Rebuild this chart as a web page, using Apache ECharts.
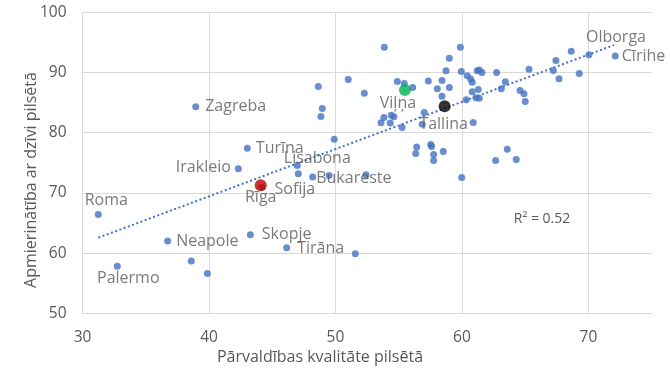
<!DOCTYPE html>
<html>
<head>
<meta charset="utf-8">
<script src="https://cdn.jsdelivr.net/npm/echarts@6/dist/echarts.min.js"></script>
<style>
html,body{margin:0;padding:0;background:#fff;}
#chart{width:670px;height:379px;}
</style>
</head>
<body>
<div id="chart"></div>
<script>
// Labeled cities
const cityNames = ['Roma','Palermo','Neapole','Zagreba','Irakleio','Turīna','Sofija','Skopje','Tirāna','Lisabona','Bukareste','Olborga','Cīrihe'];
const cityGov   = [31.25, 32.75, 36.73, 38.95, 42.32, 43.03, 44.19, 43.27, 46.14, 46.98, 48.2, 70.04, 72.12];
const citySat   = [66.4, 57.8, 62.0, 84.3, 74.0, 77.4, 70.93, 63.06, 60.9, 74.54, 72.65, 92.95, 92.73];

// Unlabeled cities
const otherGov = [38.6, 39.87, 47.06, 49.5, 52.41, 49.9, 51.57,
  53.86, 51.01, 48.64, 52.28, 54.89, 55.44, 56.1, 57.34, 48.96, 48.85,
  53.6, 53.83, 54.41, 54.62, 54.33, 55.27, 57.02, 56.86,
  59.87, 59.0, 58.74, 59.95, 58.42, 58.05, 59.0, 58.42,
  60.42, 60.69, 60.81, 61.21, 61.37, 61.58, 62.74, 60.81, 61.29, 61.1, 61.37, 60.34,
  63.43, 63.11, 65.3, 64.59, 64.9, 65.0, 60.89,
  67.43, 68.64, 67.22, 67.67, 69.27,
  56.42, 56.34, 57.53, 57.6, 57.76, 57.76, 58.52, 59.98, 62.66, 63.58, 64.29];
const otherSat = [58.7, 56.6, 73.2, 72.9, 73.0, 78.9, 59.9,
  94.18, 88.85, 87.69, 86.57, 88.52, 88.19, 87.52, 88.57, 84.03, 82.7,
  81.67, 82.53, 82.91, 82.63, 81.63, 80.86, 83.36, 81.41,
  94.18, 92.35, 90.28, 90.18, 88.69, 87.29, 87.52, 86.07,
  89.45, 88.9, 88.4, 90.28, 90.4, 90.02, 90.02, 86.79, 87.19, 85.79, 85.74, 85.46,
  88.45, 87.29, 90.52, 87.02, 86.46, 85.19, 81.7,
  92.01, 93.51, 90.35, 88.95, 89.85,
  77.64, 76.54, 78.04, 77.7, 76.37, 75.37, 76.87, 72.55, 75.37, 77.25, 75.54];

// Highlighted Baltic capitals
const highlightNames = ['Rīga','Viļņa','Tallina'];
const highlightGov = [44.09, 55.49, 58.63];
const highlightSat = [71.26, 87.1, 84.41];

// Linear trend line endpoints
const trendGov = [31.25, 72.02];
const trendSat = [62.56, 94.56];
const r2Text = 'R² = 0.52';

const xTicks = [30, 40, 50, 60, 70];
const yTicks = [50, 60, 70, 80, 90, 100];
const xTitle = 'Pārvaldības kvalitāte pilsētā';
const yTitle = 'Apmierinātība ar dzīvi pilsētā';

// styling
const FONT = 'Open Sans';
const TXT = '#595959';
const BLUE = '#4472C4';
const highlightColors = ['#C00000', '#00B050', '#000000'];

const labelCfg = {
  'Roma': {position:'top', offset:[8,2]},
  'Palermo': {position:'bottom', offset:[11,-4]},
  'Neapole': {position:'right', offset:[0,0]},
  'Zagreba': {position:'right', offset:[1,0]},
  'Irakleio': {position:'left', offset:[1,-1]},
  'Turīna': {position:'right', offset:[0,0]},
  'Sofija': {position:'right', offset:[4,2]},
  'Skopje': {position:'right', offset:[3,0]},
  'Tirāna': {position:'right', offset:[2,1]},
  'Lisabona': {position:'right', offset:[-22,-7]},
  'Bukareste': {position:'right', offset:[-5,1]},
  'Olborga': {position:'top', offset:[27,-1]},
  'Cīrihe': {position:'right', offset:[-2,0]},
  'Rīga': {position:'bottom', offset:[0,-7]},
  'Viļņa': {position:'bottom', offset:[-7,-6]},
  'Tallina': {position:'bottom', offset:[-1,-1]}
};

function lbl(name){
  const c = labelCfg[name];
  return {show:true, formatter:name, position:c.position, offset:c.offset,
    color:TXT, fontFamily:FONT, fontSize:16};
}

const cityData = cityNames.map((n,i)=>({name:n, value:[cityGov[i], citySat[i]], label:lbl(n)}));
const otherData = otherGov.map((g,i)=>[g, otherSat[i]]);
const hlData = highlightNames.map((n,i)=>({name:n, value:[highlightGov[i], highlightSat[i]],
  itemStyle:{color:highlightColors[i]}, label:lbl(n)}));
const trendData = trendGov.map((g,i)=>[g, trendSat[i]]);

const chart = echarts.init(document.getElementById('chart'), null, {renderer:'canvas'});
chart.setOption({
  animation:false,
  backgroundColor:'#fff',
  grid:{left:82.5, right:18.3, top:12.3, bottom:65.7, containLabel:false},
  xAxis:{type:'value', min:xTicks[0], max:75, interval:10,
    axisLine:{show:true, lineStyle:{color:'#d9d9d9', width:1}},
    axisTick:{show:false},
    axisLabel:{color:TXT, fontFamily:FONT, fontSize:15.5, margin:16, showMaxLabel:false},
    splitLine:{show:true, showMaxLine:false, lineStyle:{color:'#d9d9d9', width:1}}},
  yAxis:{type:'value', min:yTicks[0], max:yTicks[yTicks.length-1], interval:10,
    axisLine:{show:false}, axisTick:{show:false},
    axisLabel:{color:TXT, fontFamily:FONT, fontSize:15.5, margin:16},
    splitLine:{show:true, lineStyle:{color:'#d9d9d9', width:1}}},
  series:[
    {type:'line', data:trendData, symbol:'none', silent:true, z:1,
     lineStyle:{color:BLUE, width:2, type:[2,2.5]}},
    {type:'scatter', data:otherData, symbolSize:7, itemStyle:{color:BLUE}, z:2},
    {type:'scatter', data:cityData, symbolSize:7, itemStyle:{color:BLUE}, z:3},
    {type:'scatter', data:hlData, symbolSize:12, z:4}
  ],
  graphic:[
    {type:'text', x:320, y:357, style:{text:xTitle, fill:TXT, font:'16px "Open Sans"', align:'center', verticalAlign:'middle'}},
    {type:'text', x:31, y:180, rotation:Math.PI/2, style:{text:yTitle, fill:TXT, font:'16px "Open Sans"', align:'center', verticalAlign:'middle'}},
    {type:'text', x:542, y:219, style:{text:r2Text, fill:TXT, font:'14px "Open Sans"', align:'center', verticalAlign:'middle'}}
  ]
});
</script>
</body>
</html>
